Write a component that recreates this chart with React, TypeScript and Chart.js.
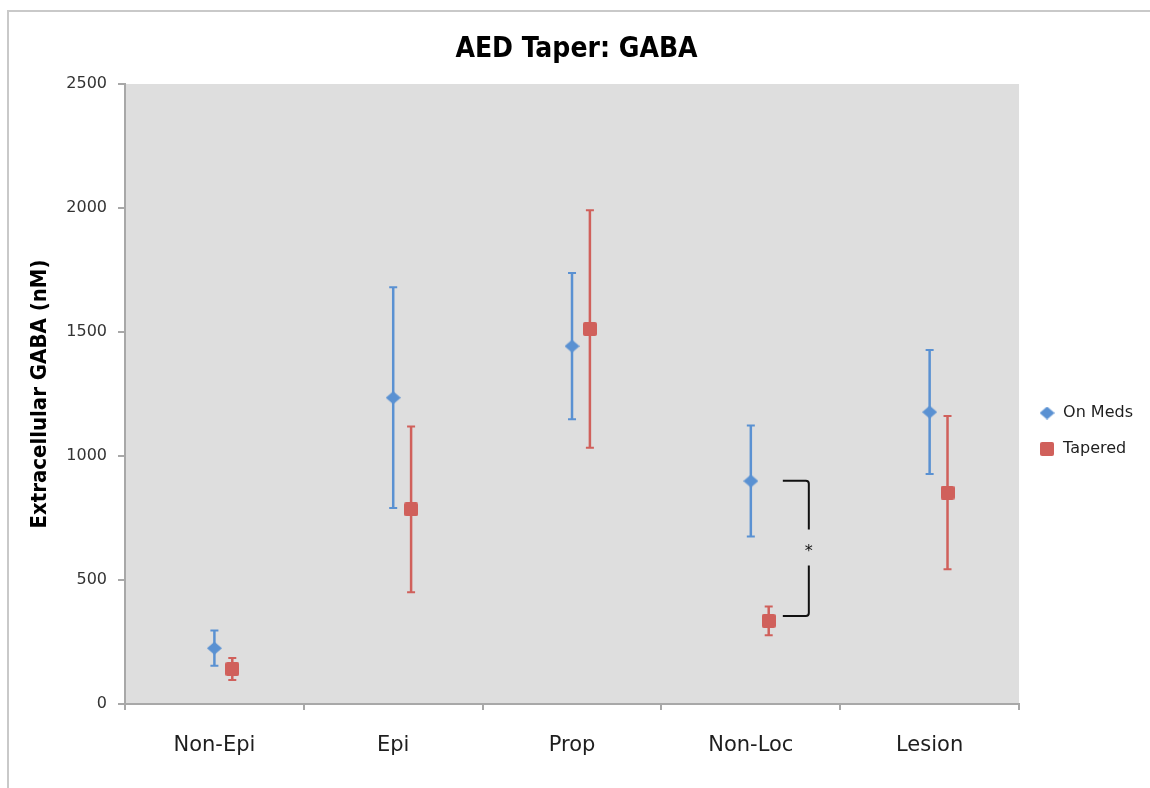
import React, { useEffect, useRef } from 'react';
import { Chart, registerables } from 'chart.js';

Chart.register(...registerables);

const categories = ['Non-Epi', 'Epi', 'Prop', 'Non-Loc', 'Lesion'];
const onMeds = [225, 1235, 1443, 899, 1177];
const onMedsErr = [71, 445, 295, 224, 250];
const tapered = [141, 785, 1512, 335, 852];
const taperedErr = [44, 334, 479, 58, 309];
const yTicks = [0, 500, 1000, 1500, 2000, 2500];

// Significance bracket joining the two Non-Loc groups
const sigCategory = 3;
const sigRange = [900, 355];
const sigLabel = '*';

const BLUE = '#5A91D2';
const RED = '#D0605B';
const AXIS = '#A8A8A8';

function makeDiamond(color: string): HTMLCanvasElement {
  const c = document.createElement('canvas');
  c.width = 15;
  c.height = 13;
  const g = c.getContext('2d')!;
  g.fillStyle = color;
  g.beginPath();
  g.moveTo(7.5, 0);
  g.lineTo(15, 6.5);
  g.lineTo(7.5, 13);
  g.lineTo(0, 6.5);
  g.closePath();
  g.fill();
  return c;
}

function makeSquare(color: string): HTMLCanvasElement {
  const c = document.createElement('canvas');
  c.width = 14;
  c.height = 14;
  const g = c.getContext('2d')!;
  g.fillStyle = color;
  g.beginPath();
  g.roundRect(0, 0, 14, 14, 2);
  g.fill();
  return c;
}

const plotBackground = {
  id: 'plotBackground',
  beforeDraw(chart: any) {
    const { ctx, chartArea: a } = chart;
    ctx.save();
    ctx.fillStyle = '#DEDEDE';
    ctx.fillRect(a.left, a.top, a.right - a.left, a.bottom - a.top);
    ctx.restore();
  },
};

const errorBars = {
  id: 'errorBars',
  beforeDatasetsDraw(chart: any) {
    const { ctx } = chart;
    const xs = chart.scales.xp;
    const ys = chart.scales.y;
    const series = [
      { vals: onMeds, errs: onMedsErr, shift: 0.5, color: BLUE },
      { vals: tapered, errs: taperedErr, shift: 0.6, color: RED },
    ];
    ctx.save();
    for (const s of series) {
      ctx.strokeStyle = s.color;
      s.vals.forEach((v, i) => {
        const x = xs.getPixelForValue(i + s.shift);
        const yt = ys.getPixelForValue(v + s.errs[i]);
        const yb = ys.getPixelForValue(v - s.errs[i]);
        ctx.lineWidth = 2.5;
        ctx.beginPath();
        ctx.moveTo(x, yt);
        ctx.lineTo(x, yb);
        ctx.stroke();
        ctx.lineWidth = 2;
        ctx.beginPath();
        ctx.moveTo(x - 4, yt);
        ctx.lineTo(x + 4, yt);
        ctx.moveTo(x - 4, yb);
        ctx.lineTo(x + 4, yb);
        ctx.stroke();
      });
    }
    ctx.restore();
  },
};

const sigBracket = {
  id: 'sigBracket',
  afterDatasetsDraw(chart: any) {
    const { ctx } = chart;
    const xs = chart.scales.xp;
    const ys = chart.scales.y;
    const xc = xs.getPixelForValue(sigCategory + 0.5);
    const x0 = xc + 32;
    const x1 = xc + 58;
    const yTop = ys.getPixelForValue(sigRange[0]);
    const yBot = ys.getPixelForValue(sigRange[1]);
    const yMid = (yTop + yBot) / 2;
    ctx.save();
    ctx.strokeStyle = '#111';
    ctx.lineWidth = 2;
    ctx.beginPath();
    ctx.moveTo(x0, yTop);
    ctx.lineTo(x1 - 3, yTop);
    ctx.quadraticCurveTo(x1, yTop, x1, yTop + 3);
    ctx.lineTo(x1, yMid - 19);
    ctx.moveTo(x1, yMid + 17);
    ctx.lineTo(x1, yBot - 3);
    ctx.quadraticCurveTo(x1, yBot, x1 - 3, yBot);
    ctx.lineTo(x0, yBot);
    ctx.stroke();
    ctx.fillStyle = '#111';
    ctx.font = '16px "DejaVu Sans"';
    ctx.textAlign = 'center';
    ctx.textBaseline = 'middle';
    ctx.fillText(sigLabel, x1, yMid + 3);
    ctx.restore();
  },
};

// Keep the legend a little below the vertical middle of the plot
const legendOffset = {
  id: 'legendOffset',
  afterLayout(chart: any) {
    const lg = chart.legend;
    if (lg) {
      lg.top += 37;
      lg.bottom += 37;
    }
  },
};

export default function App() {
  const ref = useRef<HTMLCanvasElement>(null);

  useEffect(() => {
    const canvas = ref.current;
    if (!canvas) return;
    Chart.defaults.font.family = '"DejaVu Sans", sans-serif';
    const chart = new Chart(canvas, {
      type: 'scatter',
      data: {
        datasets: [
          {
            label: 'On Meds',
            data: onMeds.map((v, i) => ({ x: i + 0.5, y: v })),
            xAxisID: 'xp',
            yAxisID: 'y',
            pointStyle: makeDiamond(BLUE),
            backgroundColor: BLUE,
            borderColor: BLUE,
          },
          {
            label: 'Tapered',
            data: tapered.map((v, i) => ({ x: i + 0.6, y: v })),
            xAxisID: 'xp',
            yAxisID: 'y',
            pointStyle: makeSquare(RED),
            backgroundColor: RED,
            borderColor: RED,
          },
        ],
      },
      options: {
        responsive: false,
        animation: false,
        layout: { padding: { left: 10, right: 7, top: 0, bottom: 0 } },
        scales: {
          x: {
            type: 'category',
            labels: categories,
            offset: true,
            position: 'bottom',
            grid: {
              offset: true,
              drawOnChartArea: false,
              drawTicks: true,
              tickLength: 6,
              color: AXIS,
              lineWidth: 2,
            },
            border: { display: true, color: AXIS, width: 2 },
            ticks: {
              color: '#1e1e1e',
              padding: 23,
              font: { size: 21, family: '"DejaVu Sans"' },
            },
            afterFit(scale: any) {
              scale.height = 84;
            },
          },
          xp: {
            type: 'linear',
            display: false,
            min: 0,
            max: 5,
          },
          y: {
            type: 'linear',
            min: 0,
            max: 2500,
            afterBuildTicks(scale: any) {
              scale.ticks = yTicks.map((v) => ({ value: v }));
            },
            grid: {
              drawOnChartArea: false,
              drawTicks: true,
              tickLength: 7,
              color: AXIS,
              lineWidth: 2,
            },
            border: { display: true, color: AXIS, width: 2 },
            ticks: {
              color: '#333',
              padding: 11,
              font: { size: 16, family: '"DejaVu Sans"' },
              callback: (v: any) => String(v),
            },
            title: {
              display: true,
              text: 'Extracellular GABA (nM)',
              color: '#000',
              font: { size: 22, weight: 'bold', family: '"DejaVu Sans Condensed", "DejaVu Sans"' },
              padding: { top: 17, bottom: 0 },
            },
            afterFit(scale: any) {
              scale.width = 115;
            },
          },
        },
        plugins: {
          title: {
            display: true,
            text: 'AED Taper: GABA',
            color: '#000',
            font: { size: 28, weight: 'bold', family: '"DejaVu Sans Condensed", "DejaVu Sans"', lineHeight: 1.2 },
            padding: { top: 33, bottom: 17.4 },
          },
          legend: {
            display: true,
            position: 'right',
            align: 'center',
            labels: {
              usePointStyle: true,
              boxWidth: 16,
              boxHeight: 12,
              padding: 20,
              color: '#1e1e1e',
              font: { size: 16, family: '"DejaVu Sans"' },
            },
          },
          tooltip: { enabled: false },
        },
      },
      plugins: [plotBackground, errorBars, sigBracket, legendOffset],
    });
    return () => chart.destroy();
  }, []);

  return (
    <div
      style={{
        position: 'fixed',
        left: 0,
        top: 0,
        width: 1150,
        height: 788,
        background: '#fff',
        overflow: 'hidden',
      }}
    >
      <div
        style={{
          position: 'absolute',
          left: 7,
          top: 10,
          width: 1200,
          height: 850,
          borderLeft: '2px solid #C9C9C9',
          borderTop: '2px solid #C9C9C9',
        }}
      />
      <canvas
        ref={ref}
        width={1150}
        height={788}
        style={{ position: 'absolute', left: 0, top: 0, width: 1150, height: 788 }}
      />
    </div>
  );
}
